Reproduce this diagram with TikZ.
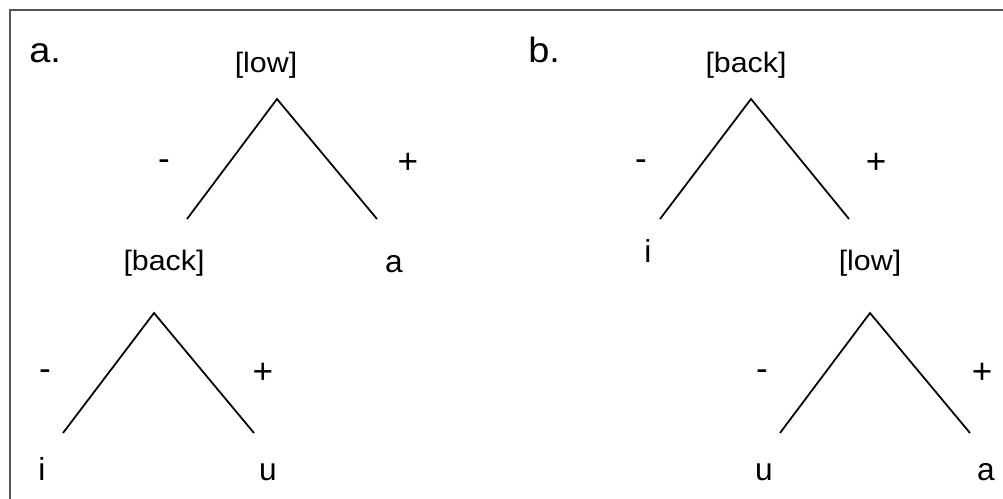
\documentclass[tikz,border=0pt]{standalone}
\usepackage{fontspec}
\setmainfont{Liberation Sans}
\newfontfamily\widesans[FakeStretch=1.08]{Liberation Sans}
\usetikzlibrary{positioning}
\definecolor{framegray}{RGB}{85,85,85}

\begin{document}
\begin{tikzpicture}[x=0.02cm,y=-0.02cm,
 feat/.style={font=\widesans\fontsize{16}{19}\selectfont,anchor=base,inner sep=0pt},
 leaf/.style={font=\fontsize{18}{22}\selectfont,anchor=base,inner sep=0pt},
 sign/.style={font=\fontsize{20}{24}\selectfont,inner sep=0pt},
 panel/.style={font=\widesans\fontsize{20}{24}\selectfont,anchor=base west,inner sep=0pt},
 branch/.style={line width=1pt}]
\useasboundingbox(0,0)rectangle(1003,499);\clip(0,0)rectangle(1003,499);
\draw[framegray,line width=0.9pt](10,10)rectangle(1020,520);
% panel a
\node[panel](pa)at(29,63){a.};
\node[feat](lowa)at(266,73){[low]};
\coordinate(lowa-top)at(277,99);\coordinate(lowa-l)at(187,219);\coordinate(lowa-r)at(377,219);
\draw[branch](lowa-l)--(lowa-top)--(lowa-r);
\node[sign](ma1)at(164,165){-};\node[sign](pa1)at(408,163){+};
\node[feat](backa)at(164,271){[back]};\node[leaf](aa)at(394,273){a};
\coordinate(backa-top)at(154,313);\coordinate(backa-l)at(63,433);\coordinate(backa-r)at(254,433);
\draw[branch](backa-l)--(backa-top)--(backa-r);
\node[sign](ma2)at(45,375){-};\node[sign](pa2)at(263,373){+};
\node[leaf](ia)at(42,480){i};\node[leaf](ua)at(268,480){u};
% panel b
\node[panel](pb)at(528,63){b.};
\node[feat](backb)at(746,73){[back]};
\coordinate(backb-top)at(751,99);\coordinate(backb-l)at(660,219);\coordinate(backb-r)at(849,219);
\draw[branch](backb-l)--(backb-top)--(backb-r);
\node[sign](mb1)at(641,165){-};\node[sign](pb1)at(876,163){+};
\node[leaf](ib)at(648,263){i};\node[feat](lowb)at(870,271){[low]};
\coordinate(lowb-top)at(870,313);\coordinate(lowb-l)at(780,433);\coordinate(lowb-r)at(970,433);
\draw[branch](lowb-l)--(lowb-top)--(lowb-r);
\node[sign](mb2)at(762,375){-};\node[sign](pb2)at(982,373){+};
\node[leaf](ub)at(764,480){u};\node[leaf](ab)at(986,480){a};
\end{tikzpicture}
\end{document}
